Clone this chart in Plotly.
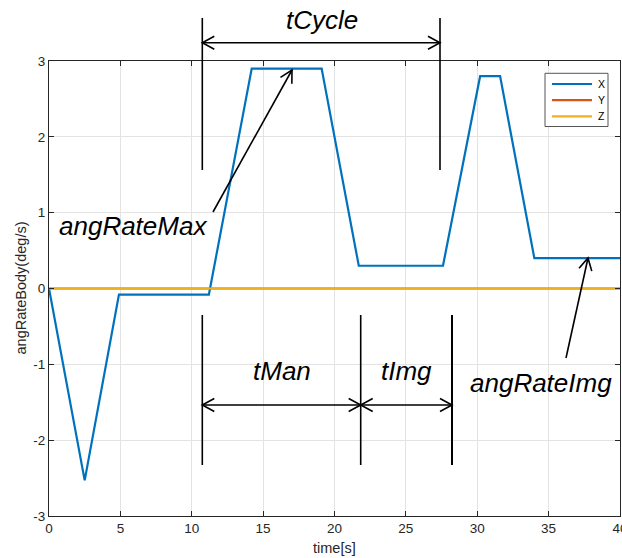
import math
import plotly.graph_objects as go

# ---- data ----
time_x = [0, 2.5, 4.9, 11.2, 14.2, 19.1, 21.7, 27.6, 30.2, 31.6, 34.0, 40]
rate_x = [0, -2.53, -0.08, -0.08, 2.9, 2.9, 0.3, 0.3, 2.8, 2.8, 0.4, 0.4]
time_y = [0, 40]
rate_y = [0, 0]
time_z = [0, 40]
rate_z = [0, 0]
series_names = ["X", "Y", "Z"]
series_colors = ["#0072BD", "#D95319", "#EDB120"]
x_ticks = [0, 5, 10, 15, 20, 25, 30, 35, 40]
y_ticks = [-3, -2, -1, 0, 1, 2, 3]
y_ticktext = ["-3", "-2", "-1", "0", "1", "2", "3"]

# ---- layout geometry ----
W, H = 622, 558
L, R, T, B = 49, 2, 61, 42
pw, ph = W - L - R, H - T - B


def px(x):
    return (x - L) / pw


def py(y):
    return (H - B - y) / ph


AX = "#262626"
FONT = "Liberation Sans, Arial, sans-serif"
fig = go.Figure()
for tx, ry, nm, col in zip([time_x, time_y, time_z], [rate_x, rate_y, rate_z],
                           series_names, series_colors):
    fig.add_trace(go.Scatter(x=tx, y=ry, mode="lines", name=nm,
                             line=dict(color=col, width=2.2)))

shapes = []
annots = []
LW = 1.6


def seg(x0, y0, x1, y1, w=LW, color="black"):
    shapes.append(dict(type="line", xref="paper", yref="paper",
                       x0=px(x0), y0=py(y0), x1=px(x1), y1=py(y1),
                       line=dict(color=color, width=w)))


def head(tx, ty, fx, fy, ln=12, hw=6.5):
    dx, dy = tx - fx, ty - fy
    d = math.hypot(dx, dy)
    ux, uy = dx / d, dy / d
    nx, ny = -uy, ux
    p1 = (tx - ln * ux + hw * nx, ty - ln * uy + hw * ny)
    p2 = (tx - ln * ux - hw * nx, ty - ln * uy - hw * ny)
    path = "M {},{} L {},{} L {},{}".format(px(p1[0]), py(p1[1]), px(tx), py(ty), px(p2[0]), py(p2[1]))
    shapes.append(dict(type="path", xref="paper", yref="paper", path=path,
                       line=dict(color="black", width=LW)))


def arrow(x0, y0, x1, y1, both=False):
    seg(x0, y0, x1, y1)
    head(x1, y1, x0, y0)
    if both:
        head(x0, y0, x1, y1)


# vertical markers
seg(202.3, 18, 202.3, 170)
seg(440, 18, 440, 170)
seg(202.3, 315, 202.3, 465)
seg(360.7, 315, 360.7, 465)
seg(452, 315, 452, 465, w=2)
# double arrows
arrow(202.3, 42.7, 440, 42.7, both=True)
arrow(202.3, 405, 360.7, 405, both=True)
arrow(360.7, 405, 452, 405, both=True)
# single arrows
arrow(213, 212, 292, 70)
arrow(566, 358, 588, 258)


def label(text, x, y):
    annots.append(dict(text="<i>" + text + "</i>", xref="paper", yref="paper",
                       x=px(x), y=py(y), xanchor="center", yanchor="middle",
                       showarrow=False, font=dict(family=FONT, size=26, color="black")))


label("tCycle", 321.7, 20)
label("tMan", 281.7, 371)
label("tImg", 406.7, 371)
label("angRateMax", 133, 226)
label("angRateImg", 541, 383)

# legend box (MATLAB style)
shapes.append(dict(type="rect", xref="paper", yref="paper",
                   x0=px(545), x1=px(608), y0=py(73.3), y1=py(126.5),
                   fillcolor="white", line=dict(color="#555555", width=1)))
for i, (nm, col) in enumerate(zip(series_names, series_colors)):
    yy = 84 + i * 16.2
    seg(552, yy, 592, yy, w=2.2, color=col)
    annots.append(dict(text=nm, xref="paper", yref="paper", x=px(596), y=py(yy),
                       xanchor="left", yanchor="middle", showarrow=False,
                       font=dict(family=FONT, size=10.5, color="black")))

# axis titles placed as text
annots.append(dict(text="time[s]", xref="paper", yref="paper", x=px(334), y=py(548),
                   xanchor="center", yanchor="middle", showarrow=False,
                   font=dict(family=FONT, size=14.5, color=AX)))
annots.append(dict(text="angRateBody(deg/s)", xref="paper", yref="paper", x=px(20.5), y=py(288),
                   xanchor="center", yanchor="middle", showarrow=False, textangle=-90,
                   font=dict(family=FONT, size=14.5, color=AX)))

fig.update_layout(
    width=W, height=H,
    margin=dict(l=L, r=R, t=T, b=B, pad=0, autoexpand=False),
    paper_bgcolor="white", plot_bgcolor="white",
    font=dict(family=FONT, size=13.5, color=AX),
    showlegend=False,
    shapes=shapes,
    annotations=annots,
)
fig.update_xaxes(range=[0, 40], tickvals=x_ticks, ticks="inside", ticklen=5,
                 tickcolor=AX, showline=True, linecolor=AX, linewidth=1, mirror="ticks",
                 showgrid=True, gridcolor="#e3e3e3", zeroline=False,
                 ticklabeloverflow="allow", automargin=False)
fig.update_yaxes(range=[-3, 3], tickvals=y_ticks, ticktext=y_ticktext, ticks="inside", ticklen=5,
                 tickcolor=AX, showline=True, linecolor=AX, linewidth=1, mirror="ticks",
                 showgrid=True, gridcolor="#e3e3e3", zeroline=False,
                 ticklabeloverflow="allow", automargin=False)

fig.write_html("out.html", config={"displayModeBar": False},
               post_script="document.body.style.margin='0';document.body.style.overflow='hidden';")
